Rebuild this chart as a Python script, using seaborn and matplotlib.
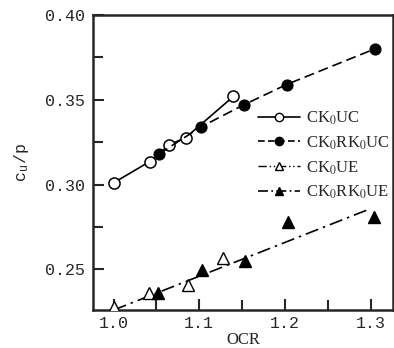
import numpy as np
import matplotlib
matplotlib.use('Agg')
import matplotlib.pyplot as plt
import seaborn as sns
from matplotlib.lines import Line2D
from matplotlib.legend_handler import HandlerLine2D
from matplotlib.ticker import MultipleLocator, FormatStrFormatter

# values
ocr_uc = [1.0, 1.042, 1.065, 1.084, 1.14]
cu_uc = [0.301, 0.3135, 0.3235, 0.3276, 0.352]
ocr_rk_uc = [1.053, 1.102, 1.152, 1.202, 1.305]
cu_rk_uc = [0.318, 0.334, 0.347, 0.359, 0.380]
ocr_ue = [1.0, 1.041, 1.087, 1.128]
cu_ue = [0.2276, 0.2359, 0.2406, 0.2565]
ocr_rk_ue = [1.052, 1.103, 1.153, 1.204, 1.304]
cu_rk_ue = [0.2359, 0.2494, 0.2547, 0.278, 0.2806]
fit_ocr = [1.0, 1.296]
fit_cu = [0.226, 0.285]

labels = [r'CK$_0$UC', r'CK$_0$RK$_0$UC', r'CK$_0$UE', r'CK$_0$RK$_0$UE']

sns.set_style('ticks')
plt.rcParams['mathtext.fontset'] = 'stix'
plt.rcParams['font.family'] = ['Liberation Mono', 'DejaVu Sans']


class EndMarker(HandlerLine2D):
    # marker at the right end of the legend line
    def get_xdata(self, legend, xdescent, ydescent, width, height, fontsize):
        return [-xdescent, -xdescent + width], [-xdescent + width]


fig = plt.figure(figsize=(3.94, 3.48), dpi=100)
ax = fig.add_axes([0.236, 0.109, 0.761, 0.848])

ms = 8
sns.lineplot(x=ocr_uc, y=cu_uc, ax=ax, color='k', lw=1.2, marker='o', ms=ms,
             mfc='white', mec='k', mew=1.1, zorder=3)
sns.lineplot(x=ocr_rk_uc, y=cu_rk_uc, ax=ax, color='k', lw=1.2, ls=(0, (6, 3)),
             marker='o', ms=ms, mfc='k', mec='k', zorder=4)
sns.lineplot(x=fit_ocr, y=fit_cu, ax=ax, color='k', lw=1.2, ls=(0, (8, 3, 1.5, 3)))
ax.plot(ocr_ue, cu_ue, ls='none', marker='^', ms=ms, mfc='white', mec='k', mew=1.0, zorder=3)
ax.plot(ocr_rk_ue, cu_rk_ue, ls='none', marker='^', ms=ms, mfc='k', mec='k', zorder=3)

ax.set_xlim(0.976, 1.326)
ax.set_ylim(0.226, 0.40)
ax.xaxis.set_major_locator(MultipleLocator(0.1))
ax.xaxis.set_minor_locator(MultipleLocator(0.05))
ax.yaxis.set_major_locator(MultipleLocator(0.05))
ax.yaxis.set_minor_locator(MultipleLocator(0.025))
ax.xaxis.set_major_formatter(FormatStrFormatter('%.1f'))
ax.yaxis.set_major_formatter(FormatStrFormatter('%.2f'))
ax.tick_params(which='both', direction='in', width=1.5, labelsize=12)
ax.tick_params(axis='x', pad=4)
ax.tick_params(axis='y', pad=6)
ax.tick_params(which='major', length=8)
ax.tick_params(which='minor', length=7)
for s in ax.spines.values():
    s.set_linewidth(1.8)

ax.set_xlabel('OCR', family='Liberation Serif', fontsize=12, labelpad=1)
ax.set_ylabel(r'c$_\mathregular{u}$/p', fontsize=12, labelpad=10)

handles = [
    Line2D([], [], color='k', lw=1.2, marker='o', ms=6, mfc='white', mec='k'),
    Line2D([], [], color='k', lw=1.2, ls=(0, (4, 2)), marker='o', ms=6, mfc='k', mec='k'),
    Line2D([], [], color='k', lw=1.0, ls=(0, (6, 2, 1, 2, 1, 2)), marker='^', ms=6, mfc='white', mec='k'),
    Line2D([], [], color='k', lw=1.2, ls=(0, (6, 2, 1, 2)), marker='^', ms=6, mfc='k', mec='k'),
]
leg = ax.legend(handles, labels, loc='upper left', bbox_to_anchor=(0.55, 0.68),
                frameon=False, handlelength=2.5, handletextpad=0.4, labelspacing=0.45,
                borderpad=0, borderaxespad=0,
                prop={'family': 'Liberation Serif', 'size': 12},
                handler_map={h: EndMarker() for h in handles})

fig.savefig('out.png', dpi=100)
